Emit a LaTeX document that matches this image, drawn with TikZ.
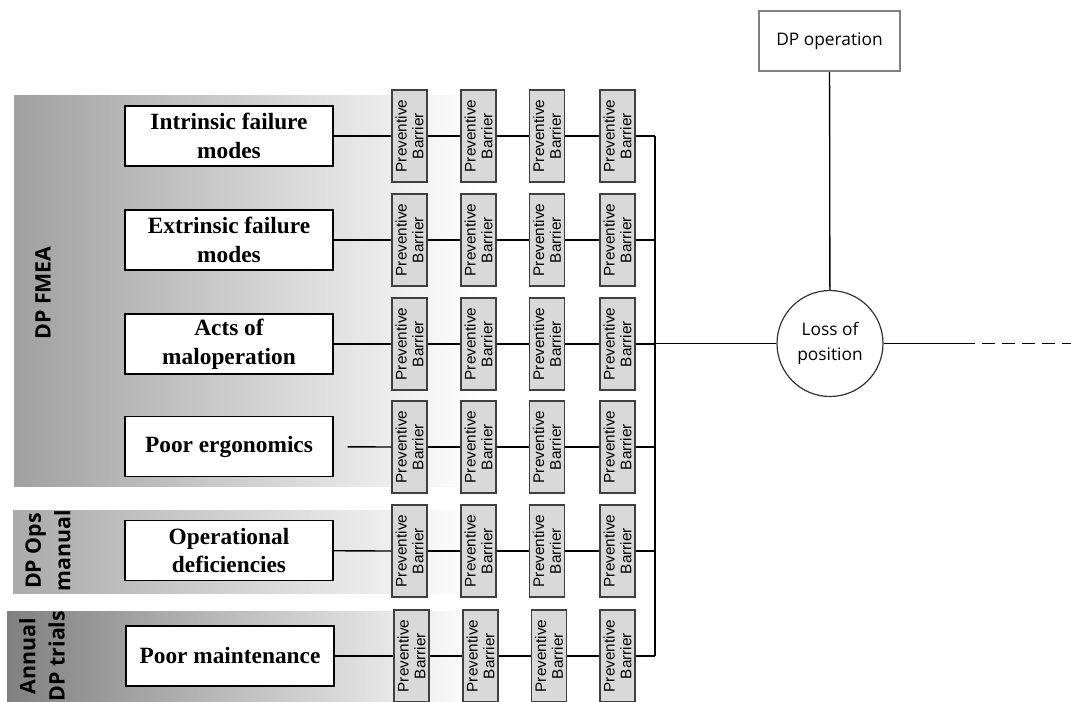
\documentclass[tikz,border=0pt]{standalone}
\usepackage{fontspec}
\setmainfont{Liberation Serif}
\newfontfamily\barrierfont{Liberation Sans}
\newfontfamily\uifont{Open Sans}
\usetikzlibrary{calc}
\begin{document}
\begin{tikzpicture}[x=0.75pt,y=-0.75pt,
  conn/.style={draw=black,line width=1pt},
  cause/.style={draw=black,line width=1.1pt,fill=white,minimum width=156pt,minimum height=45pt,
    inner sep=0pt,align=center,font=\fontsize{17.5}{21.5}\selectfont\bfseries},
  barrier/.style={draw=black!75,line width=0.9pt,fill=black!15,rotate=90,minimum width=69pt,
    minimum height=26.25pt,inner sep=0pt,align=center,font=\barrierfont\fontsize{11.5}{12.5}\selectfont},
  bandlabel/.style={rotate=90,align=center,font=\uifont\bfseries\fontsize{16}{22}\selectfont},
  topevent/.style={circle,draw=black!80,line width=0.9pt,fill=white,minimum size=79.5pt,inner sep=0pt,
    align=center,font=\uifont\fontsize{13}{18.75}\selectfont},
  hazard/.style={draw=black!50,line width=1.8pt,fill=white,minimum width=105.75pt,minimum height=45pt,
    inner sep=0pt,font=\uifont\fontsize{13}{16}\selectfont}]
\useasboundingbox (0,0) rectangle (1071,701);

% shaded group bands
\shade[left color={rgb,255:red,160;green,160;blue,160},right color=white] (14,95) rectangle (480,486);
\shade[left color={rgb,255:red,170;green,170;blue,170},right color=white] (13,510) rectangle (480,593);
\shade[left color={rgb,255:red,128;green,128;blue,128},right color=white] (7,611) rectangle (480,705);

\node[bandlabel] (fmea) at (43,293) {DP FMEA};
\node[bandlabel] (opsman) at (48,551) {DP Ops\\manual};
\node[bandlabel] (trials) at (42,656) {Annual\\DP trials};

% causes
\node[cause] (r1) at (229,136) {Intrinsic failure\\modes};
\node[cause] (r2) at (229,240) {Extrinsic failure\\modes};
\node[cause] (r3) at (229,344) {Acts of\\maloperation};
\node[cause] (r4) at (229,446.5) {Poor ergonomics};
\node[cause] (r5) at (229,550.5) {Operational\\deficiencies};
\node[cause] (r6) at (230,656) {Poor maintenance};

% preventive barriers
\foreach \r/\y/\dx in {1/136/0,2/240/0,3/344/0,4/447/0,5/551/0,6/656/2}{
  \node[barrier] (b\r1) at (409.5+\dx,\y) {Preventive\\Barrier};
  \node[barrier] (b\r2) at (478.5+\dx,\y) {Preventive\\Barrier};
  \node[barrier] (b\r3) at (547+\dx,\y) {Preventive\\Barrier};
  \node[barrier] (b\r4) at (617.5,\y) {Preventive\\Barrier};
}

% top event and hazard
\node[topevent] (loss) at (830,343.5) {Loss of\\position};
\node[hazard] (dpop) at (829.5,41) {DP operation};
\coordinate (bus) at (655,343.5);
\coordinate (cut) at (962,343.5);
\coordinate (edge) at (1071,343.5);

% connectors
\foreach \r in {1,2,3,5,6}{ \draw[conn] (r\r) -- (b\r1); }
\draw[conn,shorten <=10.5pt] (r4) -- (b41);
\foreach \r in {1,...,6}{
  \draw[conn] (b\r1) -- (b\r2);
  \draw[conn] (b\r2) -- (b\r3);
  \draw[conn] (b\r3) -- (b\r4);
  \draw[conn] (b\r4) -- (b\r4 -| bus);
}
\draw[conn] (b14 -| bus) -- (b64 -| bus);
\draw[conn] (bus) -- (loss);
\draw[conn] (dpop) -- (loss);
\draw[conn] (loss) -- (cut);
\draw[conn,dash pattern=on 9.75pt off 5.25pt] (cut) -- (edge);
\end{tikzpicture}
\end{document}
